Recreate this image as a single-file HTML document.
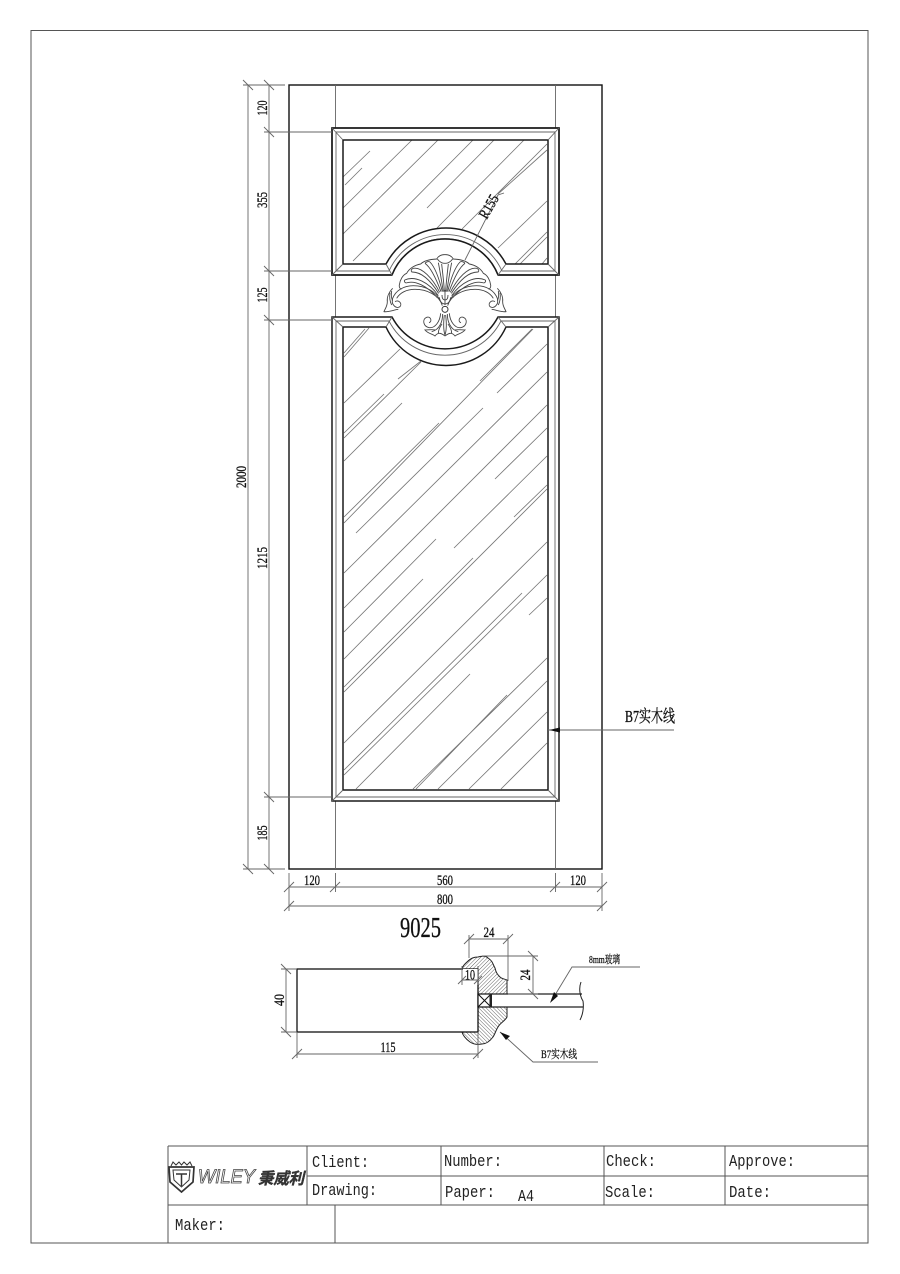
<!DOCTYPE html>
<html><head><meta charset="utf-8"><style>
html,body{margin:0;padding:0;background:#fff}
svg{display:block}
text{font-family:"Liberation Serif","Noto Serif CJK SC",serif;fill:#111}
.m{font-family:"Liberation Mono","Noto Sans CJK SC",monospace;font-size:16.5px;fill:#222}
.d{font-size:15px;text-anchor:middle;stroke:#111;stroke-width:.3}
.t{stroke:#666;stroke-width:.9;fill:none}
.k{stroke:#1a1a1a;stroke-width:1.5;fill:none}
.h{stroke:#777;stroke-width:.85;fill:none}
</style></head><body>
<svg width="900" height="1274" viewBox="0 0 900 1274" xmlns="http://www.w3.org/2000/svg">
<defs>
<pattern id="ha" width="2.600" height="2.600" patternUnits="userSpaceOnUse" patternTransform="rotate(45)"><line x1="0" y1="0" x2="0" y2="2.600" stroke="#444" stroke-width=".8"/></pattern>
<pattern id="hb" width="2.600" height="2.600" patternUnits="userSpaceOnUse" patternTransform="rotate(-45)"><line x1="0" y1="0" x2="0" y2="2.600" stroke="#444" stroke-width=".8"/></pattern>
<g id="half" fill="none" stroke="#444" stroke-width="2.700">
<path d="M195,14C185,13 175,18 170,27C150,28 132,32 122,42C105,45 88,55 80,70C68,75 60,90 58,105C57,112 60,116 64,118"/>
<path d="M172,27C182,40 190,40 195,40"/>
<path d="M175,38C180,62 185,95 190,125M185,42C188,70 192,100 193,125"/>
<path d="M135,40C150,50 168,85 183,125M150,36C165,52 178,88 187,125M135,40C140,35 146,34 150,36"/>
<path d="M100,55C125,50 158,85 179,127M95,66C125,65 152,92 176,130M100,55C94,57 92,62 95,66"/>
<path d="M74,90C105,76 147,97 175,137M78,99C105,90 142,108 172,143M74,90C72,94 74,98 78,99"/>
<path d="M180,152C170,125 135,107 100,107C70,107 47,122 38,145C32,165 50,178 60,170C68,160 55,148 45,155"/>
<path d="M187,167C178,135 140,118 105,118C80,118 60,128 50,145"/>
<path d="M38,115C28,125 20,140 22,155C22,170 14,178 12,185C25,187 40,180 55,178"/>
<path d="M30,128C28,140 30,155 35,165M35,123C33,135 34,145 38,152"/>
<path d="M182,190C180,215 165,235 148,233C130,230 125,208 140,202C152,198 158,215 147,218"/>
<path d="M188,192C188,215 178,240 155,245M193,195C190,220 190,240 195,255"/>
<path d="M195,258C185,250 175,245 165,258C155,250 145,252 135,240C145,240 155,238 165,240M175,250C175,240 180,230 186,222"/>
<path d="M178,142C180,155 186,162 195,162M186,135C186,145 190,150 195,150"/>
</g>
</defs>
<rect x="31" y="30.500" width="837" height="1212.500" fill="none" stroke="#555" stroke-width="1"/>

<!-- door -->
<rect x="289" y="85" width="313" height="784" fill="none" stroke="#111" stroke-width="1.4"/>
<path class="t" d="M335.500,85V128M335.500,275V317M335.500,801V869M555.500,85V128M555.500,275V317M555.500,801V869"/>

<!-- hatch upper -->
<path class="h" d="M343,177L370,151M345,185L362,168M343,208L412,140M343,234L438,140M353,261L473,140M427,208L494,140M437,228L524,140M462,229L547,144M498,194L547,150M498,248L547,201M515,264L547,232M520,264L547,237M542,264L547,258"/>
<!-- hatch lower -->
<path class="h" d="M344,353L365,329M344,357L369,328M344,403L400,349M398,379L421,361M344,438L421,362M344,433L384,394M344,461L402,403M344,517L439,423M344,523L533,329M480,381L532,329M356,533L483,408M497,393L547,344M344,573L547,372M344,608L547,405M495,479L547,428M344,632L436,539M454,548L547,456M514,517L547,485M344,692L547,489M344,687L473,558M344,743L547,542M344,659L423,579M344,770L522,593M344,775L547,575M356,789L470,674M529,615L547,598M413,789L547,658M416,789L507,695M438,789L547,681M469,789L547,712M501,789L547,743"/>

<!-- frames -->
<path d="M332,128H559V275H498A57,57 0 0 0 392,275H332Z" fill="none" stroke="#1a1a1a" stroke-width="1.5"/>
<path d="M392,275A57,57 0 0 1 498,275V300H392Z" fill="#fff" stroke="none"/>
<path class="k" d="M332,128H559V275H498A57,57 0 0 0 392,275H332Z"/>
<path class="k" d="M343,140H548V264H506A68,68 0 0 0 386,264H343Z"/>
<path class="t" d="M336,132H555V271H502A62,62 0 0 0 389,271H336Z"/>
<path class="t" d="M332,128L343,140M559,128L548,140M332,275L343,264M559,275L548,264M392,275L386,264M498,275L506,264"/>
<path class="k" d="M332,317H392A60,60 0 0 0 498,317H559V801H332Z"/>
<path class="k" d="M343,327H386A66,66 0 0 0 506,327H548V790H343Z"/>
<path class="t" d="M336,321H389A63,63 0 0 0 501,321H555V797H336Z"/>
<path class="t" d="M332,317L343,327M559,317L548,327M332,801L343,790M559,801L548,790M392,317L386,327M498,317L506,327"/>

<!-- carving -->
<g transform="translate(380,250) scale(.3333)">
<use href="#half"/>
<use href="#half" transform="translate(390,0) scale(-1,1)"/>
<circle cx="195" cy="178" r="9" fill="#fff" stroke="#333" stroke-width="3"/>
<path d="M195,120V165" stroke="#444" stroke-width="2.700" fill="none"/>
</g>

<!-- R155 -->
<path class="t" d="M465,260L498,195L504,193"/>
<text class="d" transform="translate(493,209) rotate(-60)" textLength="25" lengthAdjust="spacingAndGlyphs">R155</text>

<!-- left dims -->
<path class="t" d="M248,85V869M269,85V869M243,85H285M264,132H332M264,271H332M264,320H332M264,797H332M243,869H285"/>
<path class="t" d="M243,80L253,90M264,80L274,90M264,127L274,137M264,266L274,276M264,315L274,325M264,792L274,802M243,864L253,874M264,864L274,874"/>
<text class="d" transform="translate(267,108) rotate(-90)" textLength="15" lengthAdjust="spacingAndGlyphs">120</text>
<text class="d" transform="translate(267,200) rotate(-90)" textLength="16" lengthAdjust="spacingAndGlyphs">355</text>
<text class="d" transform="translate(267,295) rotate(-90)" textLength="15" lengthAdjust="spacingAndGlyphs">125</text>
<text class="d" transform="translate(267,558) rotate(-90)" textLength="22" lengthAdjust="spacingAndGlyphs">1215</text>
<text class="d" transform="translate(267,833) rotate(-90)" textLength="15" lengthAdjust="spacingAndGlyphs">185</text>
<text class="d" transform="translate(246,477) rotate(-90)" textLength="22" lengthAdjust="spacingAndGlyphs">2000</text>

<!-- bottom dims -->
<path class="t" d="M289,873V911M335.500,873V892M555.500,873V892M602,873V911M289,887H602M289,906H602"/>
<path class="t" d="M284,892L294,882M330,892L340,882M550,892L560,882M597,892L607,882M284,911L294,901M597,911L607,901"/>
<text class="d" x="312" y="885" textLength="16" lengthAdjust="spacingAndGlyphs">120</text>
<text class="d" x="445" y="885" textLength="16" lengthAdjust="spacingAndGlyphs">560</text>
<text class="d" x="578" y="885" textLength="16" lengthAdjust="spacingAndGlyphs">120</text>
<text class="d" x="445" y="904" textLength="16" lengthAdjust="spacingAndGlyphs">800</text>
<text x="420.500" y="937" font-size="28" text-anchor="middle" textLength="41" lengthAdjust="spacingAndGlyphs" stroke="#111" stroke-width=".3">9025</text>

<!-- B7 leader -->
<path class="t" d="M548,730H674"/>
<path d="M549,730L560,727.500V732.500Z" fill="#111"/>
<text x="625" y="722" font-size="17" textLength="50" lengthAdjust="spacingAndGlyphs" stroke="#111" stroke-width=".35">B7实木线</text>

<!-- section -->
<path d="M462,969C463,965 465,964 467,962C471,958 474,957 478,957C482,956 486,956 488,958C493,961 493,965 495,968C496,973 498,975 500,977C502,979 505,979 507,980V994H478V969Z" fill="url(#ha)"/>
<path d="M478,1007H507V1017C505,1021 500,1023 498,1027C496,1030 495,1034 493,1037C490,1041 486,1044 482,1044C477,1045 473,1044 470,1042C466,1039 463,1036 462,1032H478Z" fill="url(#hb)"/>
<path d="M462,969C463,965 465,964 467,962C471,958 474,957 478,957C482,956 486,956 488,958C493,961 493,965 495,968C496,973 498,975 500,977C502,979 505,979 507,980V994M507,1007V1017C505,1021 500,1023 498,1027C496,1030 495,1034 493,1037C490,1041 486,1044 482,1044C477,1045 473,1044 470,1042C466,1039 463,1036 462,1032" fill="none" stroke="#222" stroke-width="1"/>
<rect x="297" y="969" width="181" height="63" fill="none" stroke="#111" stroke-width="1.300"/>
<rect x="478" y="994" width="13" height="13" fill="#fff" stroke="#111" stroke-width="1.200"/>
<path d="M478,994L491,1007M491,994L478,1007" stroke="#111" stroke-width="1"/>
<rect x="489.500" y="994" width="2.500" height="13" fill="#222"/>
<path d="M491,994H582M491,1007H583" stroke="#222" stroke-width="1.200" fill="none"/>
<path d="M581,982C578,990 581,998 583,1001C584,1008 583,1014 580,1020" stroke="#222" stroke-width="1" fill="none"/>

<path class="t" d="M286,969V1032M281,969H297M281,1032H297M281,964L291,974M281,1027L291,1037"/>
<text class="d" transform="translate(284,1000) rotate(-90)" textLength="12" lengthAdjust="spacingAndGlyphs">40</text>
<path class="t" d="M297,1032V1058M478,1032V1058M297,1054H478M292,1059L302,1049M473,1059L483,1049"/>
<text class="d" x="388" y="1052" textLength="15" lengthAdjust="spacingAndGlyphs">115</text>
<path class="t" d="M469,935V958M508,935V981M469,939H508M464,944L474,934M503,944L513,934"/>
<text class="d" x="489" y="937" textLength="11" lengthAdjust="spacingAndGlyphs">24</text>
<path class="t" d="M533,956V994M482,956H538M508,994H538M528,951L538,961M528,989L538,999"/>
<text class="d" transform="translate(530,975) rotate(-90)" textLength="11" lengthAdjust="spacingAndGlyphs">24</text>
<rect x="463" y="969" width="14.500" height="11" fill="#fff"/>
<path class="t" d="M462,966V985M478,966V985M462,980H478M458,984L466,976M474,984L482,976"/>
<text class="d" x="470" y="979.500" textLength="10" lengthAdjust="spacingAndGlyphs">10</text>

<path class="t" d="M552,1000L572,967H640"/>
<path d="M550,1003L554,992L558,996Z" fill="#111"/>
<text x="589" y="963" font-size="11" textLength="31" lengthAdjust="spacingAndGlyphs" stroke="#111" stroke-width=".25">8mm玻璃</text>
<path class="t" d="M500,1032L533,1062H598"/>
<path d="M500,1032L510,1036L506,1040Z" fill="#111"/>
<text x="541" y="1058" font-size="11.500" textLength="36" lengthAdjust="spacingAndGlyphs" stroke="#111" stroke-width=".25">B7实木线</text>

<!-- title block -->
<path d="M168,1146H868M307,1176H868M168,1205H868M168,1146V1243M307,1146V1205M441,1146V1205M604,1146V1205M725,1146V1205M335,1205V1243" fill="none" stroke="#555" stroke-width="1"/>
<g transform="translate(168,1162)" fill="none" stroke="#333">
<path d="M1,5H26L25,20L13.500,30L2,20Z" stroke-width="1.700"/>
<path d="M5,8H22L21,18L13.500,25L6,18Z" stroke-width="1"/>
<path d="M8,12H19M13.500,12V24" stroke-width="1.500"/>
<path d="M3,4L5,0L8,3L11,0L13.500,3L16,0L19,3L22,0L24,4" stroke-width="1"/>
</g>
<text x="198" y="1183" font-size="19" font-style="italic" textLength="57" lengthAdjust="spacingAndGlyphs" style="font-family:'Liberation Sans',sans-serif;fill:#fff;stroke:#444;stroke-width:.8">WILEY</text>
<text x="258" y="1184" font-size="16" font-style="italic" font-weight="bold" textLength="46" lengthAdjust="spacingAndGlyphs" style="font-family:'Noto Sans CJK SC',sans-serif;fill:#333;stroke:#333;stroke-width:.4">秉威利</text>

<text class="m" x="312" y="1167" textLength="57" lengthAdjust="spacingAndGlyphs">Client:</text>
<text class="m" x="312" y="1195" textLength="65" lengthAdjust="spacingAndGlyphs">Drawing:</text>
<text class="m" x="444" y="1166" textLength="58" lengthAdjust="spacingAndGlyphs">Number:</text>
<text class="m" x="445" y="1197" textLength="50" lengthAdjust="spacingAndGlyphs">Paper:</text>
<text class="m" x="518" y="1201" textLength="16" lengthAdjust="spacingAndGlyphs">A4</text>
<text class="m" x="606" y="1166" textLength="50" lengthAdjust="spacingAndGlyphs">Check:</text>
<text class="m" x="729" y="1166" textLength="66" lengthAdjust="spacingAndGlyphs">Approve:</text>
<text class="m" x="605" y="1197" textLength="50" lengthAdjust="spacingAndGlyphs">Scale:</text>
<text class="m" x="729" y="1197" textLength="42" lengthAdjust="spacingAndGlyphs">Date:</text>
<text class="m" x="175" y="1230" textLength="50" lengthAdjust="spacingAndGlyphs">Maker:</text>
</svg>
</body></html>
